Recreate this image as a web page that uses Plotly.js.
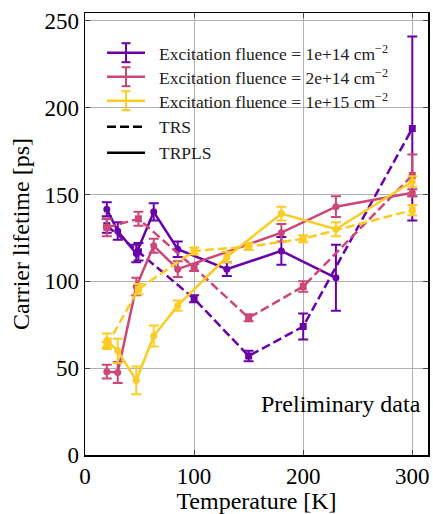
<!DOCTYPE html>
<html><head><meta charset="utf-8">
<script src="https://cdn.plot.ly/plotly-3.0.1.min.js"></script>
<style>html,body{margin:0;padding:0;background:#fff}#chart{width:433px;height:514px}</style>
</head><body><div id="chart"></div>
<script>
// Purple: excitation fluence 1e14 cm^-2
const T_trpls_1e14 = [20, 30, 47, 63, 85, 130, 180, 230];
const tau_trpls_1e14 = [141.5, 129, 116, 140, 118.5, 107, 117.5, 102];
const err_trpls_1e14 = [4, 5, 5, 5, 4.5, 4, 8, 19];
const T_trs_1e14 = [20, 49, 100, 150, 200, 300];
const tau_trs_1e14 = [132, 117, 90, 57, 74, 188];
const err_trs_1e14 = [4, 5, 2, 3, 7.5, 53];
// Pink: 2e14
const T_trpls_2e14 = [20, 30, 47, 63, 85, 180, 230, 300];
const tau_trpls_2e14 = [48, 47.5, 97, 120.5, 107, 128, 143, 151];
const err_trpls_2e14 = [4, 6, 5, 4, 4.5, 5, 6, 2];
const T_trs_2e14 = [20, 49, 100, 150, 200, 300];
const tau_trs_2e14 = [131, 136, 108, 79, 97, 161];
const err_trs_2e14 = [5, 4, 2, 2, 3, 12];
// Yellow: 1e15
const T_trpls_1e15 = [20, 30, 47, 63, 85, 130, 180, 230, 300];
const tau_trpls_1e15 = [66, 60, 43, 68.5, 86, 114, 139, 130, 157.5];
const err_trpls_1e15 = [4, 7, 8, 6, 3, 3, 4, 4, 3];
const T_trs_1e15 = [20, 49, 100, 150, 200, 300];
const tau_trs_1e15 = [63, 95.5, 117.5, 120, 124.5, 141];
const err_trs_1e15 = [2, 3, 2, 2, 2, 3];

const fluenceLabels = ['Excitation fluence = 1e+14 cm<sup>−2</sup>', 'Excitation fluence = 2e+14 cm<sup>−2</sup>', 'Excitation fluence = 1e+15 cm<sup>−2</sup>'];
const methodLabels = ['TRS', 'TRPLS'];
const colors = ['#6a00a8', '#cc4778', '#fccc25'];
const DASH = '9px,4px';

const sets = [
  [T_trs_1e14, tau_trs_1e14, err_trs_1e14, T_trpls_1e14, tau_trpls_1e14, err_trpls_1e14],
  [T_trs_2e14, tau_trs_2e14, err_trs_2e14, T_trpls_2e14, tau_trpls_2e14, err_trpls_2e14],
  [T_trs_1e15, tau_trs_1e15, err_trs_1e15, T_trpls_1e15, tau_trpls_1e15, err_trpls_1e15]
];
const traces = [];
sets.forEach((s, i) => {
  const c = colors[i];
  traces.push({x: s[0], y: s[1], type: 'scatter', mode: 'lines+markers', showlegend: false, name: methodLabels[0],
    line: {color: c, width: 2.5, dash: DASH}, marker: {symbol: 'square', size: 7, color: c},
    error_y: {type: 'data', array: s[2], visible: true, color: c, thickness: 2, width: 5}});
  traces.push({x: s[3], y: s[4], type: 'scatter', mode: 'lines+markers', showlegend: false, name: methodLabels[1],
    line: {color: c, width: 2.5}, marker: {symbol: 'circle', size: 7, color: c},
    error_y: {type: 'data', array: s[5], visible: true, color: c, thickness: 2, width: 5}});
});

// custom legend (plot-area pixel geometry -> paper coords)
const L = 85, W = 343, B = 455, H = 442;
const px = v => (v - L) / W, py = v => (B - v) / H;
const rowY = [52.7, 76.7, 100.7, 126.7, 152.7];
const shapes = [], annotations = [];
const legendItems = [
  {text: fluenceLabels[0], color: colors[0], dash: 'solid', bar: true},
  {text: fluenceLabels[1], color: colors[1], dash: 'solid', bar: true},
  {text: fluenceLabels[2], color: colors[2], dash: 'solid', bar: true},
  {text: methodLabels[0], color: '#000', dash: DASH, bar: false},
  {text: methodLabels[1], color: '#000', dash: 'solid', bar: false}
];
legendItems.forEach((it, k) => {
  const y = rowY[k];
  shapes.push({type: 'line', xref: 'paper', yref: 'paper', x0: px(107), x1: px(145), y0: py(y), y1: py(y),
    line: {color: it.color, width: 2.5, dash: it.dash}});
  if (it.bar) {
    shapes.push({type: 'line', xref: 'paper', yref: 'paper', x0: px(126), x1: px(126), y0: py(y - 9.5), y1: py(y + 9.5), line: {color: it.color, width: 2}});
    shapes.push({type: 'line', xref: 'paper', yref: 'paper', x0: px(121.5), x1: px(130.5), y0: py(y - 9.5), y1: py(y - 9.5), line: {color: it.color, width: 2}});
    shapes.push({type: 'line', xref: 'paper', yref: 'paper', x0: px(121.5), x1: px(130.5), y0: py(y + 9.5), y1: py(y + 9.5), line: {color: it.color, width: 2}});
  }
  annotations.push({text: it.text, xref: 'paper', yref: 'paper', x: px(157), y: py(y), xanchor: 'left', yanchor: 'middle',
    showarrow: false, font: {size: 17.5, family: 'Liberation Serif', color: '#222'}});
});
annotations.push({text: 'Preliminary data', xref: 'paper', yref: 'paper', x: px(423), y: py(404), xanchor: 'right', yanchor: 'middle',
  showarrow: false, font: {size: 24, family: 'Liberation Serif', color: '#000'}});

const font = 'Liberation Serif';
const layout = {
  width: 433, height: 514,
  margin: {l: 85, r: 5, t: 13, b: 59},
  paper_bgcolor: '#fff', plot_bgcolor: '#fff',
  font: {family: font, color: '#000'},
  showlegend: false,
  xaxis: {range: [0, 314.4], tickvals: [0, 100, 200, 300], ticks: 'inside', ticklen: 5, tickwidth: 1,
    showline: true, linecolor: '#000', linewidth: 1.5, mirror: 'ticks', showgrid: true, gridcolor: '#b0b0b0', gridwidth: 1,
    zeroline: false, tickfont: {size: 23, family: font, color: '#000'},
    title: {text: 'Temperature [K]', font: {size: 24, family: font, color: '#000'}, standoff: 6}},
  yaxis: {range: [0, 254.5], tickvals: [0, 50, 100, 150, 200, 250], ticks: 'inside', ticklen: 5, tickwidth: 1,
    showline: true, linecolor: '#000', linewidth: 1.5, mirror: 'ticks', showgrid: true, gridcolor: '#b0b0b0', gridwidth: 1,
    zeroline: false, tickfont: {size: 23, family: font, color: '#000'},
    title: {text: 'Carrier lifetime [ps]', font: {size: 24, family: font, color: '#000'}, standoff: 8}},
  shapes: shapes,
  annotations: annotations
};
Plotly.newPlot('chart', traces, layout, {displayModeBar: false, staticPlot: true});
</script></body></html>
